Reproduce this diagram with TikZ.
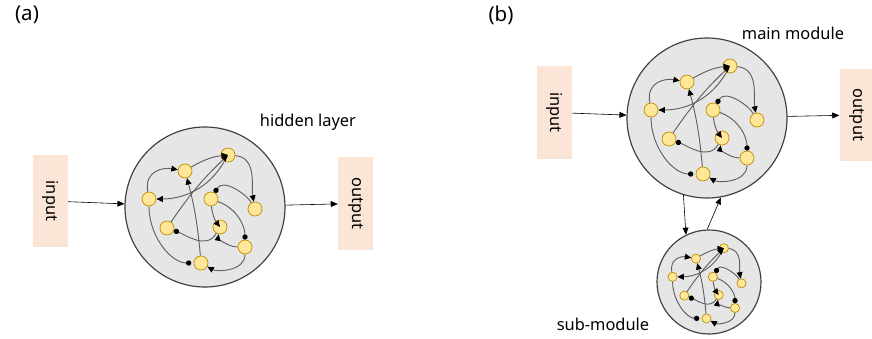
\documentclass[tikz,border=0pt]{standalone}
\usepackage{fontspec}
\setmainfont{Noto Sans}
\usetikzlibrary{
    arrows.meta,
    positioning
}
\definecolor{boxfill}{HTML}{FBE5D6}
\definecolor{cellfill}{HTML}{FFE699}
\definecolor{celldraw}{HTML}{BF9000}
\definecolor{netfill}{HTML}{E6E6E6}
\tikzset{
    tag/.style = {
        font=\fontsize{17.5}{20}\selectfont
    },
    caption/.style = {
        font=\fontsize{14}{16}\selectfont
    },
    iobox/.style = {
        rectangle,
        fill=boxfill,
        rotate=-90,
        minimum width=2.76cm,
        minimum height=1.05cm,
        font=\fontsize{14}{16}\selectfont
    },
    module/.style = {
        circle,
        draw=black!75,
        fill=netfill,
        line width=1pt,
        minimum size=4.8cm,
        inner sep=0pt
    },
    submodule/.style = {
        module,
        minimum size=3.12cm
    },
    cell/.style = {
        circle,
        draw=celldraw,
        fill=cellfill,
        line width=0.6pt,
        minimum size=0.42cm,
        inner sep=0pt
    },
    link/.style = {
        draw=black!62,
        line width=0.8pt,
        -{Triangle[length=5.5pt,width=5pt,color=black]}
    },
    dotlink/.style = {
        draw=black!62,
        line width=0.8pt,
        -{Circle[length=4.5pt,color=black]}
    },
    flow/.style = {
        -{Triangle[length=6pt,width=5pt]},
        line width=0.5pt
    },
    net/.pic = {
        \node[cell] (-n1) at (23,-52) {};
        \node[cell] (-n2) at (-20,-36) {};
        \node[cell] (-n3) at (-56,-8) {};
        \node[cell] (-n4) at (6,-8) {};
        \node[cell] (-n5) at (50,2) {};
        \node[cell] (-n6) at (-38,21) {};
        \node[cell] (-n7) at (15,20) {};
        \node[cell] (-n8) at (40,40) {};
        \node[cell] (-n9) at (-4,56) {};
        \draw[link] (-n3) to[out=100,in=170,looseness=1.3] (-n2);
        \draw[link] (-n2) to[bend left=12] (-n1);
        \draw[link] (-n1) to[out=240,in=0] (-n3);
        \draw[link] (-n6) to[bend left=6] (-n1);
        \draw[link] (-n9) to[out=95,in=-75] (-n2);
        \draw[link] (-n1) to[out=-5,in=100] (-n5);
        \draw[link, {Circle[length=4.5pt,color=black]}-] (-n4) to[out=60,in=120] (-n5);
        \draw[link] (-n4) to[bend right=15] (-n7);
        \draw[link] (-n8) to[out=180,in=-100] (-n7);
        \draw[dotlink] (-n4) to[out=-20,in=90] (-n8);
        \draw[dotlink] (-n7) to[out=-120,in=-20] (-n6);
        \draw[dotlink, shorten >=2pt] (-n3) to[out=-90,in=180] (-n9);
        \draw[link] (-n8) to[out=-90,in=-30] (-n9);
    }
}

\begin{document}
\begin{tikzpicture}[x=0.03cm, y=-0.03cm]
\useasboundingbox (0,0) rectangle (872,339);
% (a) single hidden layer
\node[tag] (tagA) at (27,15) {(a)};
\node[iobox] (inA) at (50.5,201) {input};
\node[module] (modA) at (205,207) {};
\pic (netA) at (205,207) {net};
\node[iobox] (outA) at (355.5,203.5) {output};
\node[caption] (capA) at (308,122) {hidden layer};
\draw[flow] (inA) -- (modA);
\draw[flow] (modA) -- (outA);
% (b) main module with sub-module
\node[tag] (tagB) at (501,15) {(b)};
\node[iobox] (inB) at (554.5,112.5) {input};
\node[module] (modB) at (707,118) {};
\pic (netB) at (707,118) {net};
\node[iobox] (outB) at (857,115) {output};
\node[caption] (capB) at (793,33) {main module};
\node[submodule] (subB) at (709,282) {};
\pic[scale=0.65, transform shape] (netS) at (709,282) {net};
\node[caption] (capS) at (603,324) {sub-module};
\draw[flow] (inB) -- (modB);
\draw[flow] (modB) -- (outB);
\draw[flow] (modB.253) -- (subB.116);
\draw[flow] (subB.92) -- (modB.280);
\end{tikzpicture}
\end{document}
